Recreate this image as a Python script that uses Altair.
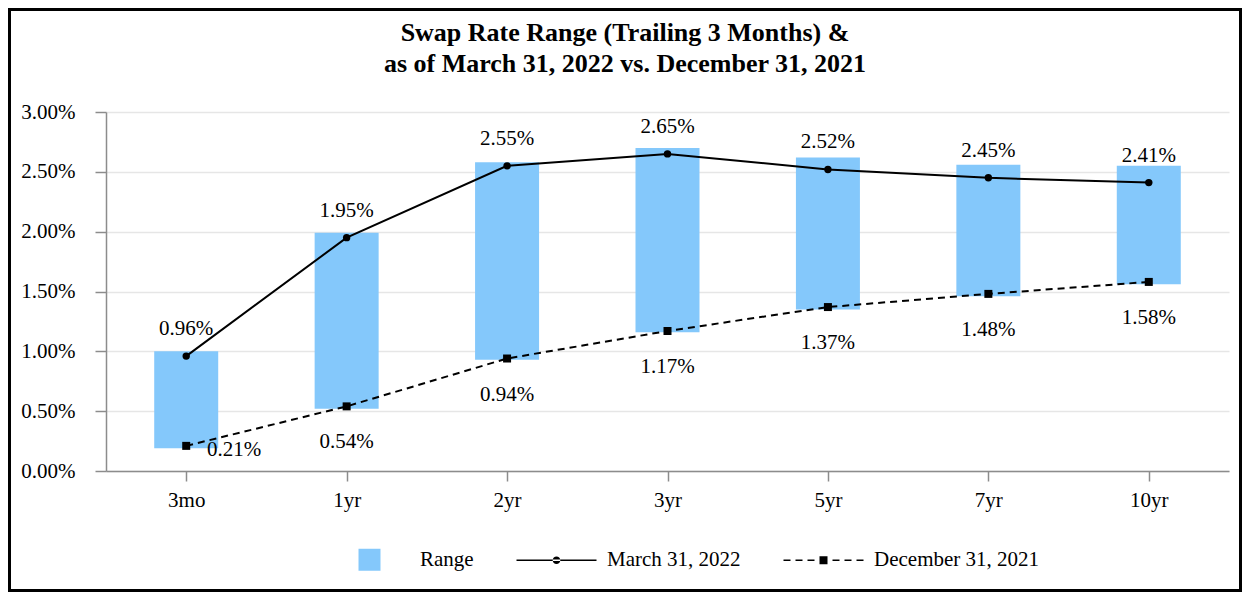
import altair as alt
import pandas as pd

# ---- data ----
tenors = ["3mo", "1yr", "2yr", "3yr", "5yr", "7yr", "10yr"]
range_low = [0.19, 0.52, 0.93, 1.16, 1.35, 1.46, 1.56]
range_high = [1.00, 1.99, 2.58, 2.70, 2.62, 2.56, 2.55]
mar_2022 = [0.96, 1.95, 2.55, 2.65, 2.52, 2.45, 2.41]
dec_2021 = [0.21, 0.54, 0.94, 1.17, 1.37, 1.48, 1.58]
y_ticks = [0.0, 0.5, 1.0, 1.5, 2.0, 2.5, 3.0]
series_names = ["Range", "March 31, 2022", "December 31, 2021"]
title_lines = ["Swap Rate Range (Trailing 3 Months) &",
               "as of March 31, 2022 vs. December 31, 2021"]

FONT = "Liberation Serif"
BAR_COLOR = "#84C8FB"
AXIS_GRAY = "#8c8c8c"

df = pd.DataFrame({
    "tenor": tenors,
    "low": range_low,
    "high": range_high,
    "mar": mar_2022,
    "dec": dec_2021,
})
df["mar_label"] = [f"{v:.2f}%" for v in mar_2022]
df["dec_label"] = [f"{v:.2f}%" for v in dec_2021]

x_enc = alt.X(
    "tenor:N", sort=tenors,
    scale=alt.Scale(type="point", padding=0.5),
    axis=alt.Axis(title=None, labelAngle=0, tickSize=10, labelPadding=8,
                  labelFont=FONT, labelFontSize=21, labelColor="black",
                  domainColor=AXIS_GRAY, domainWidth=1.5,
                  tickColor=AXIS_GRAY, tickWidth=1.5, grid=False),
)
y_scale = alt.Scale(domain=[0, 3], nice=False, zero=True)
y_axis = alt.Axis(title=None, values=y_ticks,
                  labelExpr="format(datum.value, '.2f') + '%'",
                  tickSize=11, labelPadding=20,
                  labelFont=FONT, labelFontSize=21, labelColor="black",
                  domainColor=AXIS_GRAY, domainWidth=1.5,
                  tickColor=AXIS_GRAY, tickWidth=1.5,
                  grid=True, gridColor="#e6e6e6", gridWidth=1.5)


def yq(field):
    return alt.Y(field, type="quantitative", scale=y_scale, axis=y_axis)


base = alt.Chart(df).encode(x=x_enc)

bars = base.mark_bar(size=64, color=BAR_COLOR).encode(
    y=yq("low"), y2="high:Q")
mar_line = base.mark_line(color="black", strokeWidth=2).encode(y=yq("mar"))
mar_pts = base.mark_point(filled=True, shape="circle", size=55,
                          color="black", opacity=1).encode(y=yq("mar"))
dec_line = base.mark_line(color="black", strokeWidth=2,
                          strokeDash=[7, 5]).encode(y=yq("dec"))
dec_pts = base.mark_point(filled=True, shape="square", size=64,
                          color="black", opacity=1).encode(y=yq("dec"))

mar_text = base.mark_text(font=FONT, fontSize=21, color="black",
                          baseline="alphabetic", dy=-21).encode(
    y=yq("mar"), text="mar_label:N")
dec_text = base.transform_filter(alt.datum.tenor != "3mo").mark_text(
    font=FONT, fontSize=21, color="black", baseline="alphabetic", dy=42).encode(
    y=yq("dec"), text="dec_label:N")
dec_text0 = base.transform_filter(alt.datum.tenor == "3mo").mark_text(
    font=FONT, fontSize=21, color="black", baseline="alphabetic",
    dx=48, dy=10).encode(
    y=yq("dec"), text="dec_label:N")

# ---- legend (custom symbols: swatch, line+circle, dashed line+square) ----
sq_path = "M-1.1,-1.1H1.1V1.1H-1.1Z"
mar_path = ("M-4,-0.08H4V0.08H-4Z"
            "M-0.38,0A0.38,0.38 0 1,0 0.38,0A0.38,0.38 0 1,0 -0.38,0Z")
dec_path = ("M-4,-0.08H-3.3V0.08H-4Z"
            "M-2.8,-0.08H-2.1V0.08H-2.8Z"
            "M-1.6,-0.08H-0.9V0.08H-1.6Z"
            "M-0.4,-0.4H0.4V0.4H-0.4Z"
            "M0.9,-0.08H1.6V0.08H0.9Z"
            "M2.1,-0.08H2.8V0.08H2.1Z"
            "M3.3,-0.08H4V0.08H3.3Z")

legend_params = dict(
    orient="none", legendX=253, legendY=437, direction="horizontal",
    title=None, labelFont=FONT, labelFontSize=21, labelColor="black",
    symbolSize=400, symbolStrokeWidth=0, symbolOpacity=1,
    labelOffset=40, columnPadding=42, labelLimit=400, padding=0,
)
legend_df = pd.DataFrame({"series": series_names})
legend_layer = alt.Chart(legend_df).mark_point(filled=True, opacity=0).encode(
    color=alt.Color("series:N", sort=series_names,
                    scale=alt.Scale(domain=series_names,
                                    range=[BAR_COLOR, "black", "black"]),
                    legend=alt.Legend(**legend_params)),
    shape=alt.Shape("series:N", sort=series_names,
                    scale=alt.Scale(domain=series_names,
                                    range=[sq_path, mar_path, dec_path]),
                    legend=alt.Legend(**legend_params)),
)

# ---- outer frame ----
frame = alt.Chart(pd.DataFrame({"f": [0]})).mark_rect(
    fillOpacity=0, stroke="black", strokeWidth=3).encode(
    x=alt.value(-96.5), x2=alt.value(1134.5),
    y=alt.value(-102.5), y2=alt.value(478.5))

chart = alt.layer(
    bars, dec_line, mar_line, dec_pts, mar_pts,
    mar_text, dec_text, dec_text0, legend_layer, frame,
).properties(
    width=1123, height=359,
    padding={"left": 98, "top": 104, "right": 13, "bottom": 121},
    autosize=alt.AutoSizeParams(type="none"),
    background="white",
    title=alt.TitleParams(text=title_lines, font=FONT, fontSize=26,
                          fontWeight="bold", color="black", lineHeight=31,
                          anchor="middle", dx=-42.5, offset=35, dy=104),
).configure_view(stroke=None)

chart.save("out.html", embed_options={"renderer": "svg", "actions": False})
